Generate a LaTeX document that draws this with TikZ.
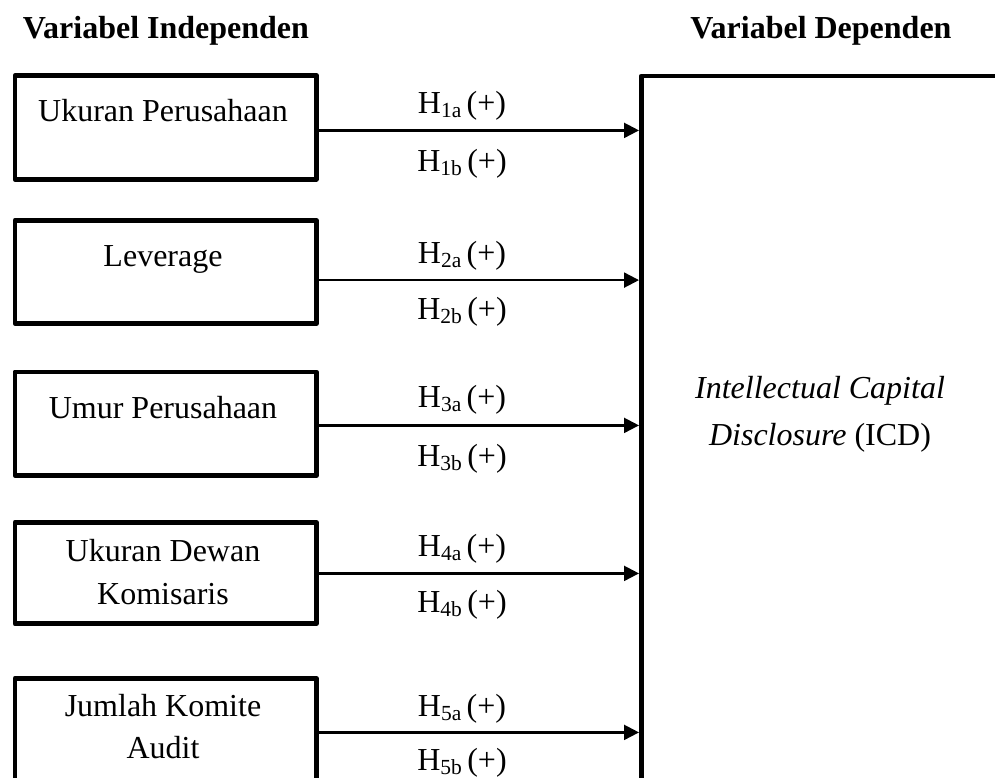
\documentclass[tikz,border=0pt]{standalone}
\usepackage{fontspec}
\setmainfont{Liberation Serif}
\usetikzlibrary{arrows.meta}
\newcommand\hsub[1]{\raisebox{-4.5pt}{\fontsize{21.5}{21.5}\selectfont #1}}
\begin{document}
\begin{tikzpicture}[x=1pt,y=-1pt,
  indep/.style={draw, line width=4.8pt, line join=round, minimum width=301.5pt, inner sep=0pt, anchor=north west},
  depbox/.style={draw, line width=4.8pt, line join=round, minimum width=420pt, minimum height=760pt, inner sep=0pt, anchor=north west},
  txt/.style={font=\fontsize{32}{40}\selectfont, anchor=base, inner sep=0pt},
  ttl/.style={font=\fontsize{32}{40}\selectfont\bfseries, anchor=base, inner sep=0pt},
  link/.style={line width=2.2pt, -{Triangle[length=15pt,width=15pt]}}]
\useasboundingbox (0,0) rectangle (995,777);
% titles
\node[ttl] (tI) at (166,38) {Variabel Independen};
\node[ttl] (tD) at (821,38) {Variabel Dependen};
% dependent box
\node[depbox] (dep) at (639,73.5) {};
\node[txt] (d1) at (820,398) {\textit{Intellectual Capital}};
\node[txt] (d2) at (820,445) {\textit{Disclosure} (ICD)};
% independent boxes
\node[indep, minimum height=103.4pt] (b1) at (12.5,73.3) {};
\node[indep, minimum height=103pt] (b2) at (12.5,218) {};
\node[indep, minimum height=103.5pt] (b3) at (12.5,369.5) {};
\node[indep, minimum height=101.3pt] (b4) at (12.5,520) {};
\node[indep, minimum height=102pt] (b5) at (12.5,676) {};
\node[txt] (l1) at (163,121) {Ukuran Perusahaan};
\node[txt] (l2) at (163,266.7) {Leverage};
\node[txt] (l3) at (163,418) {Umur Perusahaan};
\node[txt] (l4a) at (163,561.7) {Ukuran Dewan};
\node[txt] (l4b) at (163,604) {Komisaris};
\node[txt] (l5a) at (163,716.7) {Jumlah Komite};
\node[txt] (l5b) at (163,758.3) {Audit};
% arrows
\draw[link] ([yshift=-3pt]b1.east) -- ([yshift=-3pt]b1.east -| dep.west);
\draw[link] ([yshift=-8.2pt]b2.east) -- ([yshift=-8.2pt]b2.east -| dep.west);
\draw[link] ([yshift=-1.75pt]b3.east) -- ([yshift=-1.75pt]b3.east -| dep.west);
\draw[link] ([yshift=-0.35pt]b4.east) -- ([yshift=-0.35pt]b4.east -| dep.west);
\draw[link] ([yshift=-3pt]b5.east) -- ([yshift=-3pt]b5.east -| dep.west);
% hypothesis labels
\node[txt] (h1a) at (462,113) {H\hsub{1a}\,(+)};
\node[txt] (h1b) at (462,171) {H\hsub{1b}\,(+)};
\node[txt] (h2a) at (462,263) {H\hsub{2a}\,(+)};
\node[txt] (h2b) at (462,319) {H\hsub{2b}\,(+)};
\node[txt] (h3a) at (462,407) {H\hsub{3a}\,(+)};
\node[txt] (h3b) at (462,466) {H\hsub{3b}\,(+)};
\node[txt] (h4a) at (462,556) {H\hsub{4a}\,(+)};
\node[txt] (h4b) at (462,612) {H\hsub{4b}\,(+)};
\node[txt] (h5a) at (462,716) {H\hsub{5a}\,(+)};
\node[txt] (h5b) at (462,770) {H\hsub{5b}\,(+)};
\end{tikzpicture}
\end{document}
